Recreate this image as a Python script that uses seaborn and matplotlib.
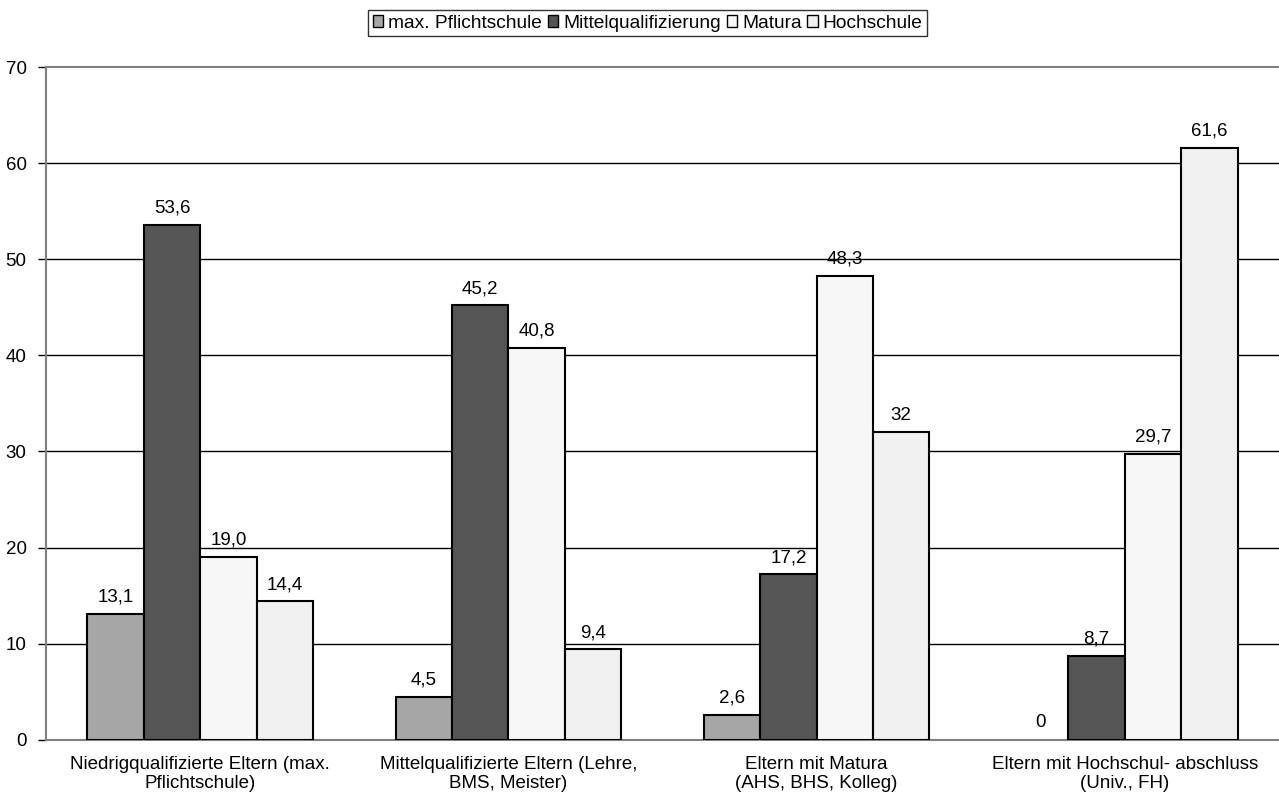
import pandas as pd
import matplotlib
matplotlib.use("Agg")
import matplotlib.pyplot as plt
import seaborn as sns

groups = [
    "Niedrigqualifizierte Eltern (max.\nPflichtschule)",
    "Mittelqualifizierte Eltern (Lehre,\nBMS, Meister)",
    "Eltern mit Matura\n(AHS, BHS, Kolleg)",
    "Eltern mit Hochschul- abschluss\n(Univ., FH)",
]
series = ["max. Pflichtschule", "Mittelqualifizierung", "Matura", "Hochschule"]
pflicht = [13.1, 4.5, 2.6, 0]
mittel = [53.6, 45.2, 17.2, 8.7]
matura = [19.0, 40.8, 48.3, 29.7]
hochschule = [14.4, 9.4, 32, 61.6]
labels = {
    "max. Pflichtschule": ["13,1", "4,5", "2,6", "0"],
    "Mittelqualifizierung": ["53,6", "45,2", "17,2", "8,7"],
    "Matura": ["19,0", "40,8", "48,3", "29,7"],
    "Hochschule": ["14,4", "9,4", "32", "61,6"],
}
colors = ["#a6a6a6", "#555555", "#f7f7f7", "#f0f0f0"]

rows = []
for name, vals in zip(series, [pflicht, mittel, matura, hochschule]):
    for g, v in zip(groups, vals):
        rows.append({"Gruppe": g, "Abschluss": name, "Wert": v})
df = pd.DataFrame(rows)

sns.set_style("white")
plt.rcParams["font.family"] = ["Liberation Sans", "DejaVu Sans"]
plt.rcParams["text.color"] = "black"
plt.rcParams["xtick.color"] = "black"
plt.rcParams["ytick.color"] = "black"

FS = 13.5
fig = plt.figure(figsize=(12.79, 7.98), dpi=100)
ax = fig.add_axes([0.036, 0.073, 0.964, 0.843])

sns.barplot(data=df, x="Gruppe", y="Wert", hue="Abschluss", hue_order=series,
            palette=colors, width=0.732, edgecolor="black", linewidth=1.5,
            saturation=1, ax=ax, zorder=3)

# keine Kante fuer Balken mit Hoehe 0
for p in ax.patches:
    if p.get_height() == 0:
        p.set_linewidth(0)

for cont, name in zip(ax.containers, series):
    ax.bar_label(cont, labels=labels[name], padding=6, fontsize=FS, zorder=4)

ax.set_ylim(0, 70)
ax.set_yticks(range(0, 71, 10))
ax.set_xlim(-0.5, 3.5)
for y in range(10, 70, 10):
    ax.axhline(y, color="black", linewidth=1, zorder=1)
ax.set_xlabel("")
ax.set_ylabel("")
ax.tick_params(axis="y", labelsize=FS, length=6, width=1, left=True, pad=8)
ax.tick_params(axis="x", labelsize=FS, length=0, pad=12)
for t in ax.get_xticklabels():
    t.set_linespacing(1.1)

for s in ["left", "bottom", "top"]:
    ax.spines[s].set_color("#808080")
    ax.spines[s].set_linewidth(1.5)
ax.spines["right"].set_visible(False)

leg = ax.legend(loc="upper center", bbox_to_anchor=(0.488, 1.085), ncol=4,
                frameon=True, fontsize=13.8, handlelength=0.55, handleheight=0.55,
                handletextpad=0.25, columnspacing=0.3, borderpad=0.25,
                borderaxespad=0, fancybox=False, edgecolor="black")
leg.get_frame().set_linewidth(1)
for h in leg.legend_handles:
    h.set_linewidth(1)

fig.savefig("out.png", dpi=100)
